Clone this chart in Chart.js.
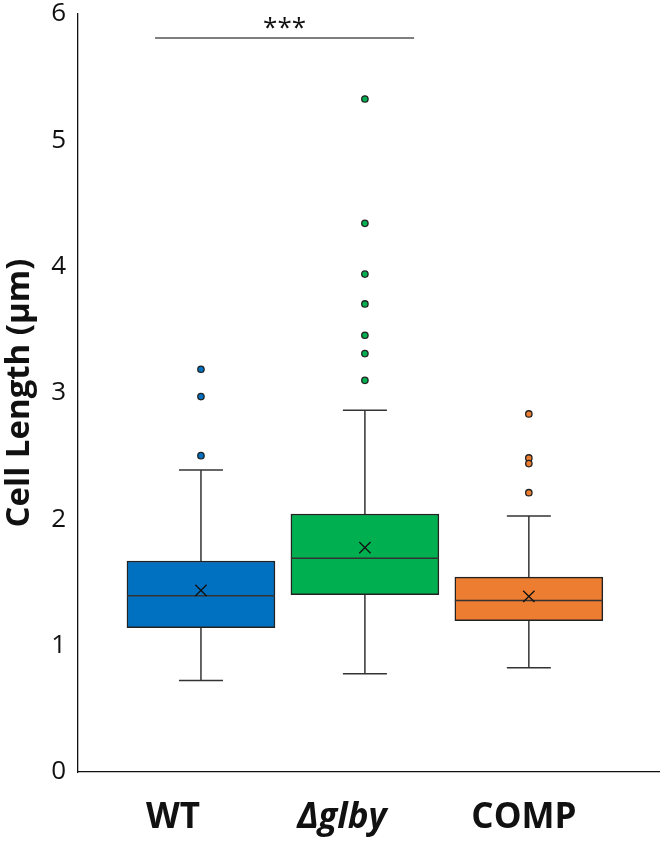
<!DOCTYPE html>
<html>
<head>
<meta charset="utf-8">
<title>Cell Length</title>
<script src="https://cdn.jsdelivr.net/npm/chart.js@4.4.1/dist/chart.umd.min.js"></script>
<style>
  html, body { margin: 0; padding: 0; background: #fff; }
  #wrap { width: 660px; height: 842px; }
</style>
</head>
<body>
<div id="wrap"><canvas id="boxChart" width="660" height="842"></canvas></div>
<script>
'use strict';

// categories and box statistics
const categories = ['WT', 'Δglby', 'COMP'];
const labelPos = [0.83, 1.86, 2.97]; // labels in the figure sit a little left of the boxes
const boxColors = ['#0070C0', '#00B050', '#ED7D31'];
const whiskerLow = [0.725, 0.778, 0.825];
const q1 = [1.142, 1.403, 1.198];
const median = [1.396, 1.691, 1.358];
const q3 = [1.670, 2.042, 1.543];
const whiskerHigh = [2.390, 2.863, 2.026];
const means = [1.438, 1.776, 1.390];
const outliers = [
  [3.188, 2.972, 2.504],
  [5.327, 4.343, 3.941, 3.705, 3.457, 3.312, 3.100],
  [2.834, 2.486, 2.441, 2.211]
];
const yTicks = [0, 1, 2, 3, 4, 5, 6];

// significance bar WT vs Δglby
const sigFrom = 0.72;
const sigTo = 2.30;
const sigLevel = 5.81;
const sigLabel = '***';

const FONT = "'Open Sans', sans-serif";

// whiskers + caps behind the boxes, medians on top of them
const boxWhiskers = {
  id: 'boxWhiskers',
  beforeDatasetsDraw(chart, args, opts) {
    const { ctx, scales: { x, y } } = chart;
    ctx.save();
    ctx.strokeStyle = opts.color;
    ctx.lineWidth = opts.lineWidth;
    categories.forEach((c, i) => {
      const px = x.getPixelForValue(i + 1);
      const half = opts.capWidth / 2;
      [[whiskerLow[i], q1[i]], [q3[i], whiskerHigh[i]]].forEach(([a, b]) => {
        ctx.beginPath();
        ctx.moveTo(px, y.getPixelForValue(a));
        ctx.lineTo(px, y.getPixelForValue(b));
        ctx.stroke();
      });
      [whiskerLow[i], whiskerHigh[i]].forEach(v => {
        const py = y.getPixelForValue(v);
        ctx.beginPath();
        ctx.moveTo(px - half, py);
        ctx.lineTo(px + half, py);
        ctx.stroke();
      });
    });
    ctx.restore();
  },
  afterDatasetDraw(chart, args, opts) {
    if (args.meta.type !== 'bar') return;
    const { ctx, scales: { y } } = chart;
    ctx.save();
    ctx.strokeStyle = opts.color;
    ctx.lineWidth = opts.lineWidth;
    args.meta.data.forEach((bar, i) => {
      const py = y.getPixelForValue(median[i]);
      ctx.beginPath();
      ctx.moveTo(bar.x - bar.width / 2, py);
      ctx.lineTo(bar.x + bar.width / 2, py);
      ctx.stroke();
    });
    ctx.restore();
  },
  afterDraw(chart) {
    const { ctx, scales: { x, y } } = chart;
    ctx.save();
    ctx.fillStyle = '#111';
    ctx.font = '26px ' + FONT;
    ctx.textAlign = 'center';
    ctx.textBaseline = 'middle';
    ctx.fillText(sigLabel, x.getPixelForValue((sigFrom + sigTo) / 2), y.getPixelForValue(sigLevel) - 9);
    ctx.restore();
  }
};

const outlierPoints = [];
const outlierColors = [];
outliers.forEach((list, i) => list.forEach(v => {
  outlierPoints.push({ x: i + 1, y: v });
  outlierColors.push(boxColors[i]);
}));

new Chart(document.getElementById('boxChart'), {
  type: 'bar',
  data: {
    datasets: [
      {
        type: 'line',
        data: [{ x: sigFrom, y: sigLevel }, { x: sigTo, y: sigLevel }],
        borderColor: '#555',
        borderWidth: 1.5,
        pointRadius: 0,
        order: 0
      },
      {
        type: 'scatter',
        data: means.map((v, i) => ({ x: i + 1, y: v })),
        pointStyle: 'crossRot',
        pointRadius: 8,
        borderColor: '#111',
        borderWidth: 1.3,
        order: 1
      },
      {
        type: 'scatter',
        data: outlierPoints,
        pointRadius: 3.2,
        backgroundColor: outlierColors,
        borderColor: '#222',
        borderWidth: 1.3,
        order: 2
      },
      {
        type: 'bar',
        data: categories.map((c, i) => ({ x: i + 1, y: [q1[i], q3[i]] })),
        backgroundColor: boxColors,
        borderColor: '#222',
        borderWidth: 1.5,
        borderSkipped: false,
        barThickness: 148,
        order: 3
      }
    ]
  },
  options: {
    responsive: false,
    animation: false,
    layout: { autoPadding: false, padding: { top: 14, right: 0, bottom: 0, left: 0 } },
    scales: {
      x: {
        type: 'linear',
        min: 0.25,
        max: 3.8,
        offset: false,
        afterFit(scale) {
          scale.height = 70;
          scale.paddingLeft = 0;
          scale.paddingRight = 0;
        },
        afterBuildTicks(scale) { scale.ticks = labelPos.map(v => ({ value: v })); },
        grid: { display: false, drawTicks: false },
        border: { display: true, color: '#111', width: 1.3 },
        ticks: {
          padding: 25,
          color: '#111',
          autoSkip: false,
          maxRotation: 0,
          callback: (v, i) => categories[i],
          font: (ctx) => ({
            family: FONT,
            size: 35,
            weight: 'bold',
            style: ctx.index === 1 ? 'italic' : 'normal'
          })
        }
      },
      y: {
        min: 0,
        max: 6,
        afterFit(scale) {
          scale.width = 78;
          scale.paddingTop = 0;
          scale.paddingBottom = 0;
        },
        afterBuildTicks(scale) { scale.ticks = yTicks.map(v => ({ value: v })); },
        grid: { display: false, drawTicks: false },
        border: { display: true, color: '#111', width: 1.3 },
        ticks: {
          padding: 12,
          color: '#111',
          font: { family: FONT, size: 26 }
        },
        title: {
          display: true,
          text: 'Cell Length (µm)',
          color: '#111',
          font: { family: FONT, size: 33, weight: 'bold' },
          padding: { top: 0, bottom: 0 }
        }
      }
    },
    plugins: {
      legend: { display: false },
      tooltip: { enabled: false },
      boxWhiskers: { color: '#333', lineWidth: 1.5, capWidth: 44 }
    }
  },
  plugins: [boxWhiskers]
});
</script>
</body>
</html>
